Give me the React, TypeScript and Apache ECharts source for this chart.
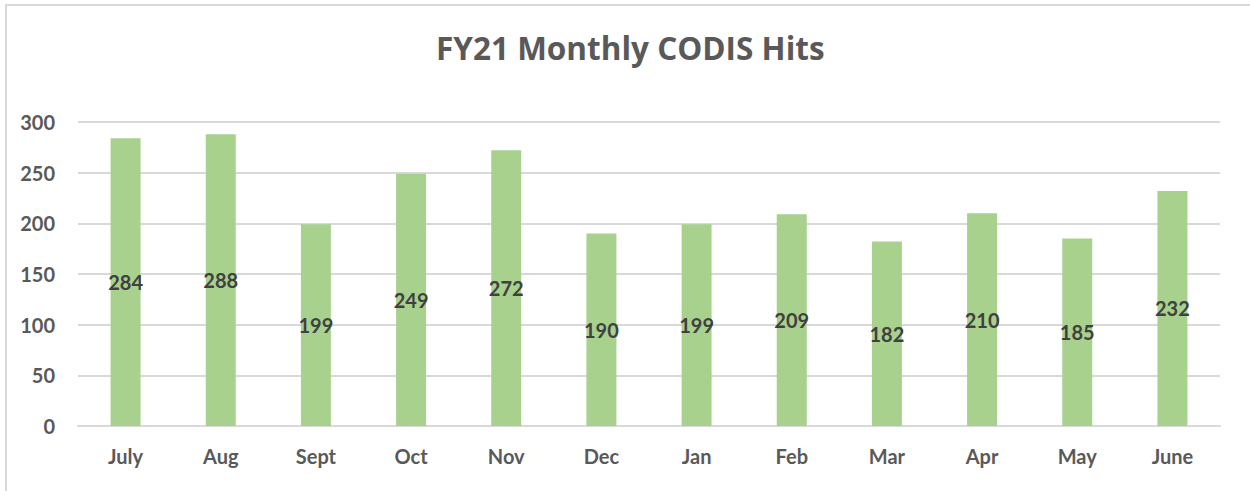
import React, { useEffect, useRef } from "react";
import * as echarts from "echarts";

const months = ["July", "Aug", "Sept", "Oct", "Nov", "Dec", "Jan", "Feb", "Mar", "Apr", "May", "June"];
const hits = [284, 288, 199, 249, 272, 190, 199, 209, 182, 210, 185, 232];
const titleText = "FY21 Monthly CODIS Hits";

const FONT = "Lato, 'Open Sans', sans-serif";
const TITLE_FONT = "'Open Sans', Lato, sans-serif";

export default function App() {
  const ref = useRef<HTMLDivElement>(null);
  useEffect(() => {
    if (!ref.current) return;
    const chart = echarts.init(ref.current, undefined, { renderer: "svg" });
    chart.setOption({
      animation: false,
      backgroundColor: "#ffffff",
      title: {
        text: titleText,
        left: 431,
        top: 26,
        textStyle: { fontFamily: TITLE_FONT, fontSize: 31.5, fontWeight: "bold", color: "#595959" },
      },
      graphic: [
        {
          type: "rect",
          shape: { x: 6, y: 5, width: 1400, height: 700 },
          style: { fill: "none", stroke: "#d9d9d9", lineWidth: 2 },
          silent: true,
        },
      ],
      grid: { left: 78, right: 30, top: 122, bottom: 65, containLabel: false },
      xAxis: {
        type: "category",
        data: months,
        axisLine: { show: true, lineStyle: { color: "#d9d9d9", width: 2 } },
        axisTick: { show: false },
        axisLabel: { fontFamily: FONT, fontSize: 20, fontWeight: "bold", color: "#595959", margin: 20 },
      },
      yAxis: {
        type: "value",
        min: 0,
        max: 300,
        interval: 50,
        axisLine: { show: false },
        axisTick: { show: false },
        splitLine: { lineStyle: { color: "#d9d9d9", width: 2 } },
        axisLabel: { fontFamily: FONT, fontSize: 20, fontWeight: "bold", color: "#595959", margin: 23 },
      },
      series: [
        {
          type: "bar",
          data: hits,
          barWidth: 30,
          itemStyle: { color: "#a9d18e" },
          label: {
            show: true,
            position: "inside",
            fontFamily: FONT,
            fontSize: 20,
            fontWeight: "bold",
            color: "#404040",
          },
        },
      ],
    });
    return () => chart.dispose();
  }, []);
  return (
    <div
      ref={ref}
      style={{ position: "fixed", left: 0, top: 0, width: 1250, height: 491 }}
    />
  );
}
